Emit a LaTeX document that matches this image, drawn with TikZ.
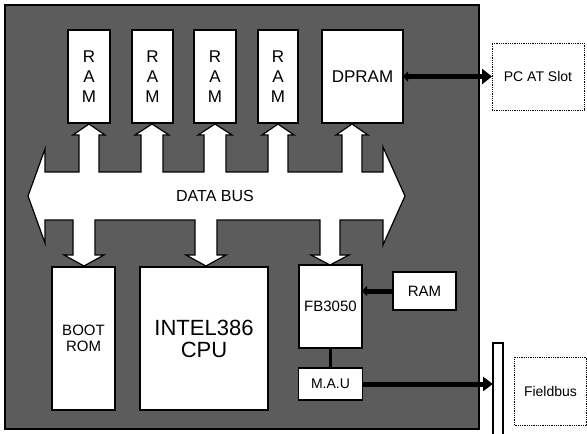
\documentclass[tikz,border=0pt]{standalone}
\usepackage{fontspec}
\setmainfont{Liberation Sans}
\usetikzlibrary{arrows.meta}
\newcommand\fsz[2]{\fontsize{#1}{#2}\selectfont}
\definecolor{boardgray}{gray}{0.36}
\begin{document}
\begin{tikzpicture}[x=1pt,y=-1pt,
  wbox/.style={draw=black,fill=white,line width=1.3pt,inner sep=0pt,outer sep=0pt,align=center},
  dbox/.style={draw=black,densely dotted,line width=0.8pt,inner sep=0pt,outer sep=0pt,align=center},
  ramtxt/.style={font=\fsz{17}{20}},
  conn/.style={line width=5pt}]
\useasboundingbox (0,0) rectangle (587,434);
% board
\draw[line width=1.2pt,fill=boardgray] (5,5) rectangle (479,429);
% data bus shape
\draw[fill=white,line width=1.2pt,line join=miter]
  (45,172) -- (45,149) -- (28,196) -- (45,243) -- (45,220)
  -- (73,220) -- (73,255) -- (64,255) -- (84,266) -- (104,255) -- (95,255) -- (95,220)
  -- (195,220) -- (195,255) -- (186,255) -- (206,266) -- (226,255) -- (217,255) -- (217,220)
  -- (320,220) -- (320,255) -- (311,255) -- (330,265) -- (349,255) -- (340,255) -- (340,220)
  -- (383,220) -- (383,245) -- (405,196) -- (383,147) -- (383,172)
  -- (362,172) -- (362,135) -- (368,135) -- (352,124) -- (336,135) -- (342,135) -- (342,172)
  -- (288,172) -- (288,135) -- (294,135) -- (278,124) -- (262,135) -- (268,135) -- (268,172)
  -- (226,172) -- (226,135) -- (232,135) -- (215,124) -- (198,135) -- (204,135) -- (204,172)
  -- (163,172) -- (163,135) -- (169,135) -- (152,124) -- (135,135) -- (141,135) -- (141,172)
  -- (99,172) -- (99,135) -- (105,135) -- (89,124) -- (73,135) -- (79,135) -- (79,172)
  -- cycle;
\node[font=\fsz{16}{18}] (databus) at (215,196) {DATA BUS};
% top row
\node[wbox,ramtxt,minimum width=42pt,minimum height=93pt] (ram1) at (89,76.5) {R\\A\\M};
\node[wbox,ramtxt,minimum width=41pt,minimum height=93pt] (ram2) at (152.5,76.5) {R\\A\\M};
\node[wbox,ramtxt,minimum width=42pt,minimum height=93pt] (ram3) at (215,76.5) {R\\A\\M};
\node[wbox,ramtxt,minimum width=40pt,minimum height=93pt] (ram4) at (278,76.5) {R\\A\\M};
\node[wbox,font=\fsz{17}{20},minimum width=81pt,minimum height=93pt] (dpram) at (362.5,76.5) {DPRAM};
\node[dbox,font=\fsz{14}{16},minimum width=92pt,minimum height=67pt] (pcat) at (538,76.5) {PC AT Slot};
% bottom row
\node[wbox,font=\fsz{15}{16},minimum width=63pt,minimum height=143pt] (boot) at (83.5,338.5) {BOOT\\ROM};
\node[wbox,font=\fsz{22}{22},minimum width=128pt,minimum height=143pt] (cpu) at (204,338.5) {INTEL386\\CPU};
\node[wbox,font=\fsz{15}{16},minimum width=63pt,minimum height=83pt] (fb) at (330.5,306.5) {FB3050};
\node[wbox,font=\fsz{15}{16},minimum width=63pt,minimum height=38pt] (ramb) at (424.5,291) {RAM};
\node[wbox,font=\fsz{14}{16},minimum width=64pt,minimum height=32pt] (mau) at (330.5,384) {M.A.U};
\node[draw=black,fill=white,line width=2pt,inner sep=0pt,outer sep=0pt,minimum width=10pt,minimum height=93pt] (bar) at (498,389.5) {};
\node[dbox,font=\fsz{14}{16},minimum width=72pt,minimum height=68pt] (fieldbus) at (550.5,391) {Fieldbus};
% connectors
\draw[conn,{Triangle[length=5pt,width=10pt]}-{Triangle[length=10pt,width=15pt]}] (dpram.east) -- (pcat.west);
\draw[conn,-{Triangle[length=5pt,width=10pt]}] (ramb.west) -- (ramb.west -| fb.east);
\draw[line width=3.5pt] (fb.south) -- (mau.north);
\draw[conn,-{Triangle[length=10pt,width=14pt]}] (mau.east) -- (mau.east -| bar.west);
\end{tikzpicture}
\end{document}
